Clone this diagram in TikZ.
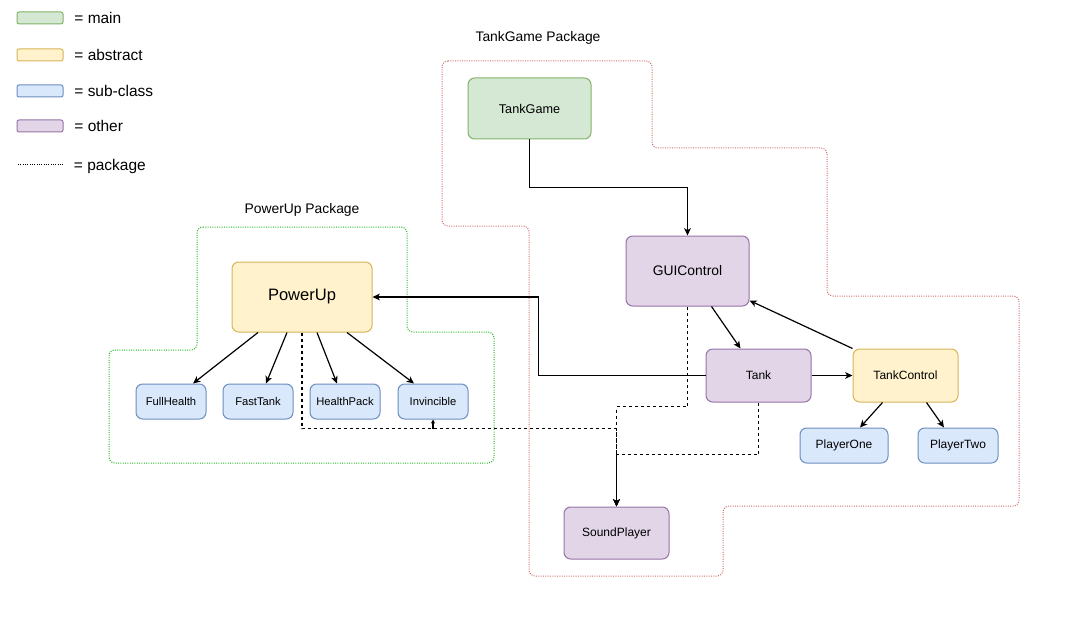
\documentclass[tikz,border=0pt]{standalone}
\usepackage{fontspec}
\setmainfont{Liberation Sans}
\usepackage{tikz}
\usepackage{xcolor}
\usetikzlibrary{arrows.meta, positioning, calc}
\definecolor{mainfill}{HTML}{D5E8D4}
\definecolor{maindraw}{HTML}{82B366}
\definecolor{absfill}{HTML}{FFF2CC}
\definecolor{absdraw}{HTML}{D6B656}
\definecolor{subfill}{HTML}{DAE8FC}
\definecolor{subdraw}{HTML}{6C8EBF}
\definecolor{otherfill}{HTML}{E1D5E7}
\definecolor{otherdraw}{HTML}{9673A6}
\definecolor{pkgred}{HTML}{CC6E6C}
\definecolor{pkggreen}{HTML}{22B822}

\begin{document}
\begin{tikzpicture}[x=0.75pt, y=-0.75pt,
  box/.style={draw, rounded corners=5pt, line width=0.75pt, inner sep=0pt, align=center},
  mainbox/.style={box, fill=mainfill, draw=maindraw},
  absbox/.style={box, fill=absfill, draw=absdraw},
  subbox/.style={box, fill=subfill, draw=subdraw},
  otherbox/.style={box, fill=otherfill, draw=otherdraw},
  legbox/.style={minimum width=34.5pt, minimum height=9pt, rounded corners=1.5pt},
  legtext/.style={inner sep=0pt, anchor=west, text height=8.3pt, text depth=0pt, font=\fontsize{11.6}{13}\selectfont},
  pkglabel/.style={inner sep=0pt, font=\fontsize{10.4}{12}\selectfont},
  arr/.style={-{Stealth[length=5.5pt,width=5pt,inset=1.5pt]}, line width=0.9pt},
  dasharr/.style={arr, dash pattern=on 2.25pt off 2.25pt},
  pkgline/.style={densely dotted, line width=0.75pt, rounded corners=4.5pt}]
\useasboundingbox (0,0) rectangle (1067,624);

\node[mainbox, legbox] (lgmain) at (40,18) {};
\node[absbox, legbox] (lgabs) at (40,55) {};
\node[subbox, legbox] (lgsub) at (40,91) {};
\node[otherbox, legbox] (lgother) at (40,126) {};
\coordinate (lgpkg) at (63,165);
\draw[densely dotted, line width=0.75pt] (18,165) -- (lgpkg);
\node[legtext, right=8pt of lgmain] {= main};
\node[legtext, right=8pt of lgabs] {= abstract};
\node[legtext, right=8pt of lgsub] {= sub-class};
\node[legtext, right=8pt of lgother] {= other};
\node[legtext, right=8pt of lgpkg] {= package};

\draw[pkgline, pkgred] (442,61) -- (652,61) -- (652,148) -- (827,148) -- (827,296) -- (1019,296)
  -- (1019,506) -- (723,506) -- (723,576) -- (529,576) -- (529,226) -- (442,226) -- cycle;
\draw[pkgline, pkggreen] (197,227) -- (407,227) -- (407,332) -- (494,332) -- (494,463)
  -- (109,463) -- (109,350) -- (197,350) -- cycle;
\node[pkglabel] (tgpkg) at (538,38) {TankGame Package};
\node[pkglabel] (pupkg) at (302,210) {PowerUp Package};

\node[mainbox, minimum width=92.25pt, minimum height=45.75pt, font=\fontsize{9.5}{11}\selectfont] (tg) at (529.5,108.5) {TankGame};
\node[otherbox, minimum width=92.25pt, minimum height=52.5pt, font=\fontsize{10.4}{12}\selectfont] (gui) at (687.5,271) {GUIControl};
\node[otherbox, minimum width=78.75pt, minimum height=39.75pt, font=\fontsize{9}{11}\selectfont] (tank) at (758.5,375.5) {Tank};
\node[absbox, minimum width=78.75pt, minimum height=39.75pt, font=\fontsize{9}{11}\selectfont] (tc) at (905.5,375.5) {TankControl};
\node[subbox, minimum width=66pt, minimum height=26.25pt, font=\fontsize{9}{11}\selectfont] (p1) at (844,445.5) {PlayerOne};
\node[subbox, minimum width=60pt, minimum height=26.25pt, font=\fontsize{9}{11}\selectfont] (p2) at (958,445.5) {PlayerTwo};
\node[otherbox, minimum width=78.75pt, minimum height=39pt, font=\fontsize{9}{11}\selectfont] (sp) at (616.5,533) {SoundPlayer};
\node[absbox, minimum width=105pt, minimum height=52.5pt, font=\fontsize{12.4}{14}\selectfont] (pu) at (302,297) {PowerUp};
\node[subbox, minimum width=52.5pt, minimum height=26.25pt, font=\fontsize{8.4}{10}\selectfont] (fh) at (171,401.5) {FullHealth};
\node[subbox, minimum width=52.5pt, minimum height=26.25pt, font=\fontsize{8.4}{10}\selectfont] (ft) at (258,401.5) {FastTank};
\node[subbox, minimum width=52.5pt, minimum height=26.25pt, font=\fontsize{8.4}{10}\selectfont] (hp) at (345,401.5) {HealthPack};
\node[subbox, minimum width=52.5pt, minimum height=26.25pt, font=\fontsize{8.4}{10}\selectfont] (inv) at (433,401.5) {Invincible};

\draw[arr] (tg.south) -- ++(0,48) -| (gui.north);
\draw[arr] ($(gui.south)+(24,0)$) -- ($(tank.north)+(-18,0)$);
\draw[arr] (tc.north west) -- ($(gui.south east)+(0,-6)$);
\draw[arr] (tank.east) -- (tc.west);
\draw[arr] ($(tc.south)+(-23,0)$) -- ($(p1.north)+(16,0)$);
\draw[arr] ($(tc.south)+(21,0)$) -- ($(p2.north)+(-14,0)$);
\draw[arr] (tank.west) -- ++(-167,0) |- (pu.east);
\draw[arr] ($(pu.south)+(-44,0)$) -- ($(fh.north)+(22,0)$);
\draw[arr] ($(pu.south)+(-15,0)$) -- ($(ft.north)+(8,0)$);
\draw[arr] ($(pu.south)+(15,0)$) -- ($(hp.north)+(-8,0)$);
\draw[arr] ($(pu.south)+(45,0)$) -- ($(inv.north)+(-19,0)$);

\draw[dasharr] (gui.south) -- ++(0,100) -| (sp.north);
\draw[dasharr] (tank.south) -- ++(0,52) -| (sp.north);
\draw[dasharr] (pu.south) -- ++(0,96) -| (sp.north);
\draw[-{Stealth[length=3pt,width=3pt]}, line width=0.9pt] ($(inv.south)+(0,9)$) -- (inv.south);
\end{tikzpicture}
\end{document}
